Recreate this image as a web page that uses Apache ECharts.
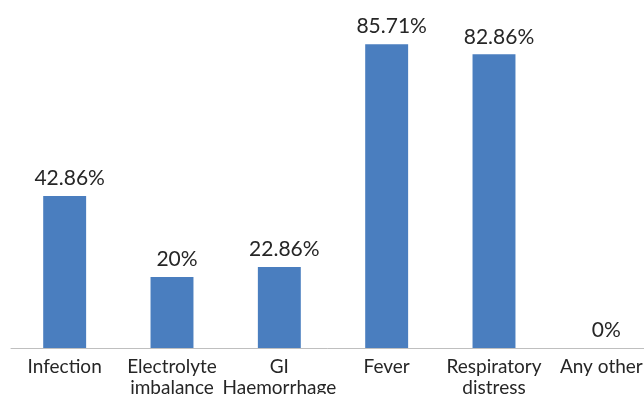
<!DOCTYPE html>
<html><head><meta charset="utf-8">
<script src="https://cdn.jsdelivr.net/npm/echarts@6/dist/echarts.min.js"></script>
<style>html,body{margin:0;padding:0;background:#fff}#c{width:644px;height:394px}</style>
</head><body><div id="c"></div>
<script>
var categories = ['Infection', 'Electrolyte\nimbalance', 'GI\nHaemorrhage', 'Fever', 'Respiratory\ndistress', 'Any other'];
var values = [42.86, 20, 22.86, 85.71, 82.86, 0];
var chart = echarts.init(document.getElementById('c'));
chart.setOption({
  animation: false,
  grid: { left: 11, width: 644, top: 29, bottom: 46, containLabel: false, outerBoundsMode: 'none' },
  xAxis: {
    type: 'category', data: categories,
    axisLine: { lineStyle: { color: '#bfbfbf', width: 1 } },
    axisTick: { show: false },
    axisLabel: { color: '#262626', fontFamily: 'Lato', fontSize: 19, margin: 8, lineHeight: 21, interval: 0 }
  },
  yAxis: { type: 'value', min: 0, max: 90, show: false, splitLine: { show: false } },
  series: [{
    type: 'bar', data: values, barWidth: '40%',
    itemStyle: { color: '#4a7ebf' },
    label: { show: true, position: 'top', distance: 7, offset: [5, 0], color: '#262626', fontFamily: 'Lato', fontSize: 21,
      formatter: function (p) { return p.value + '%'; } }
  }]
});
</script></body></html>
